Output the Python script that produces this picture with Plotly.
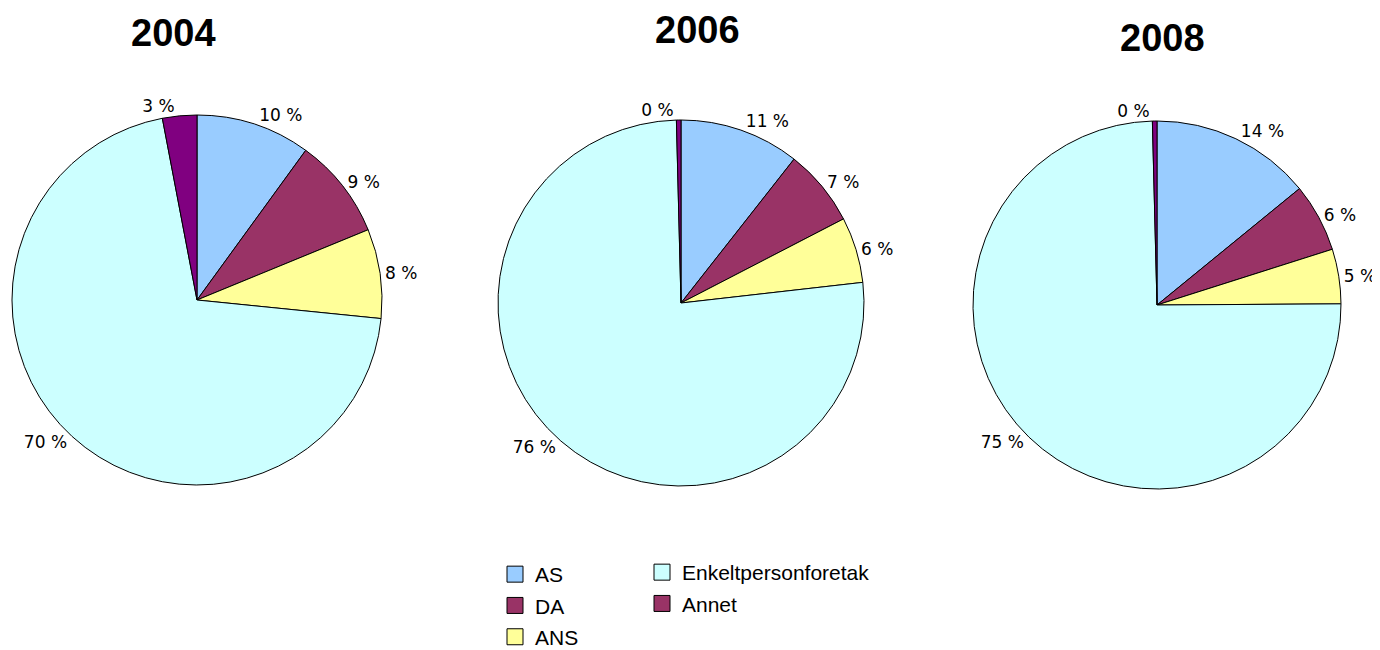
import plotly.graph_objects as go

# Slice order, clockwise from 12 o'clock
categories = ["AS", "DA", "ANS", "Enkeltpersonforetak", "Annet"]
years = ["2004", "2006", "2008"]

share_2004 = [10.0, 8.8, 7.8, 70.4, 3.0]
share_2006 = [10.6, 6.8, 5.8, 76.4, 0.4]
share_2008 = [14.1, 6.0, 4.8, 74.7, 0.4]

slice_colors = ["#99CCFF", "#993366", "#FFFF99", "#CCFFFF", "#800080"]
# the legend in the original shows "Annet" in the DA colour
legend_colors = ["#99CCFF", "#993366", "#FFFF99", "#CCFFFF", "#993366"]

W, H = 1380, 650

# pie boxes in pixels (left, top, size); the page body adds an 8px margin
boxes = [(4, 107, 370), (490, 112, 366), (965, 113, 368)]
title_pos = [(165, 25), (689, 22), (1154, 30)]

fig = go.Figure()

for year, vals, (left, top, size) in zip(years, [share_2004, share_2006, share_2008], boxes):
    total = sum(vals)
    texts = [f"{round(v / total * 100)} %" for v in vals]
    fig.add_trace(go.Pie(
        labels=categories,
        values=vals,
        text=texts,
        textinfo="text",
        textposition="outside",
        textfont=dict(family="DejaVu Sans", size=17, color="black"),
        marker=dict(colors=slice_colors, line=dict(color="black", width=1)),
        sort=False,
        direction="clockwise",
        rotation=0,
        showlegend=False,
        hoverinfo="label+percent",
        domain=dict(x=[left / W, (left + size) / W],
                    y=[1 - (top + size) / H, 1 - top / H]),
        name=year,
    ))

# legend entries, in two columns
for i, (cat, col) in enumerate(zip(categories, legend_colors)):
    fig.add_trace(go.Scatter(
        x=[None], y=[None],
        mode="markers",
        name=cat,
        legendgroup=cat,
        marker=dict(symbol="square", size=16, color=col,
                    line=dict(color="black", width=1)),
        legend="legend" if i < 3 else "legend2",
    ))

for year, (tx, ty) in zip(years, title_pos):
    fig.add_annotation(
        x=tx / W, y=1 - ty / H, xref="paper", yref="paper",
        xanchor="center", yanchor="middle",
        text=f"<b>{year}</b>", showarrow=False,
        font=dict(family="Liberation Sans", size=38, color="black"),
    )

legend_style = dict(
    font=dict(family="Liberation Sans", size=21, color="black"),
    bgcolor="rgba(0,0,0,0)",
    traceorder="grouped",
    tracegroupgap=1,
    xanchor="left", yanchor="top",
)

fig.update_layout(
    width=W, height=H,
    margin=dict(l=0, r=0, t=0, b=0, autoexpand=False),
    paper_bgcolor="white",
    plot_bgcolor="white",
    xaxis=dict(visible=False),
    yaxis=dict(visible=False),
    legend=dict(x=487 / W, y=1 - 546 / H, **legend_style),
    legend2=dict(x=634 / W, y=1 - 544 / H, **legend_style),
)

fig.write_html("out.html")
